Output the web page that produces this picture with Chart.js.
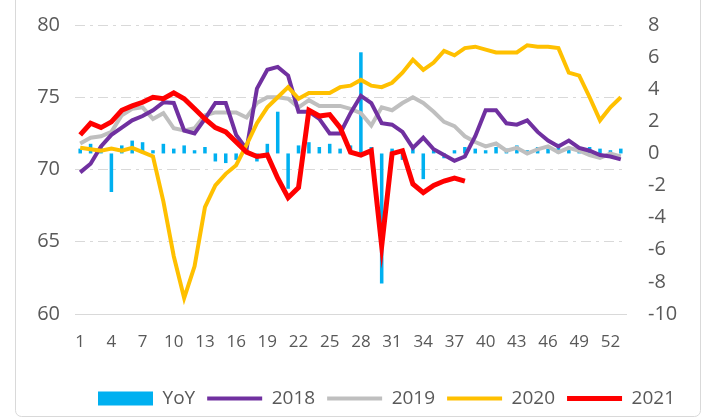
<!DOCTYPE html>
<html>
<head>
<meta charset="utf-8">
<script src="https://cdn.jsdelivr.net/npm/chart.js@4.4.1/dist/chart.umd.min.js"></script>
<style>
  html, body { margin: 0; padding: 0; background: #fff; }
  #wrap { position: relative; width: 713px; height: 418px; overflow: hidden; }
</style>
</head>
<body>
<div id="wrap"><canvas id="chart" width="713" height="418"></canvas></div>
<script>
'use strict';

// week numbers on the category axis
const weeks = [1, 2, 3, 4, 5, 6, 7, 8, 9, 10, 11, 12, 13, 14, 15, 16, 17, 18, 19, 20,
  21, 22, 23, 24, 25, 26, 27, 28, 29, 30, 31, 32, 33, 34, 35, 36, 37, 38, 39, 40,
  41, 42, 43, 44, 45, 46, 47, 48, 49, 50, 51, 52, 53];

// left axis series
const s2018 = [69.8, 70.4, 71.6, 72.4, 72.9, 73.4, 73.7, 74.1, 74.65, 74.6,
  72.7, 72.5, 73.5, 74.6, 74.6, 72.4, 71.4, 75.6, 76.9, 77.1,
  76.5, 74.0, 74.0, 73.5, 72.5, 72.5, 73.9, 75.1, 74.6, 73.2,
  73.1, 72.6, 71.5, 72.2, 71.4, 71.0, 70.6, 70.9, 72.3, 74.1,
  74.1, 73.2, 73.1, 73.4, 72.6, 72.0, 71.6, 72.0, 71.5, 71.3,
  71.0, 70.9, 70.7];
const s2019 = [71.8, 72.2, 72.3, 72.6, 73.75, 74.2, 74.3, 73.5, 73.9, 72.85,
  72.7, 72.85, 73.75, 73.95, 73.95, 73.95, 73.6, 74.6, 75.0, 75.0,
  74.9, 74.3, 74.8, 74.4, 74.4, 74.4, 74.2, 73.9, 73.05, 74.3,
  74.1, 74.6, 75.0, 74.6, 74.0, 73.3, 73.0, 72.3, 71.9, 71.6,
  71.8, 71.3, 71.5, 71.1, 71.4, 71.6, 71.2, 71.5, 71.3, 71.0,
  70.8, 71.1, 70.9];
const s2020 = [71.5, 71.4, 71.3, 71.45, 71.3, 71.5, 71.2, 70.9, 67.8, 64.0,
  61.1, 63.3, 67.4, 68.9, 69.7, 70.3, 71.7, 73.2, 74.3, 75.0,
  75.7, 74.9, 75.3, 75.3, 75.3, 75.7, 75.8, 76.2, 75.8, 75.7,
  76.0, 76.7, 77.6, 76.9, 77.4, 78.2, 77.9, 78.4, 78.5, 78.3,
  78.1, 78.1, 78.1, 78.6, 78.5, 78.5, 78.4, 76.7, 76.5, 75.0,
  73.4, 74.3, 75.0];
const s2021 = [72.4, 73.2, 72.9, 73.3, 74.1, 74.4, 74.65, 75.0, 74.9, 75.3,
  74.9, 74.2, 73.5, 72.9, 72.6, 71.9, 71.2, 70.9, 71.0, 69.4,
  68.05, 68.75, 74.1, 73.7, 73.8, 72.9, 71.2, 71.0, 71.3, 64.7,
  71.1, 71.3, 69.0, 68.4, 68.9, 69.2, 69.4, 69.2, null, null,
  null, null, null, null, null, null, null, null, null, null,
  null, null, null];

// right axis bars
const yoy = [0.3, 0.6, 0.4, -2.4, 0.5, 0.8, 0.7, 0.2, 0.6, 0.3,
  0.5, 0.2, 0.4, -0.5, -0.6, -0.4, 0.3, -0.5, 0.6, 2.6,
  -2.2, 0.5, 0.7, 0.4, 0.6, 0.3, 0.5, 6.3, 0.4, -8.1,
  0.3, -0.4, 0.5, -1.6, 0.3, -0.3, 0.2, 0.4, 0.3, 0.2,
  0.4, 0.3, 0.5, 0.2, 0.4, 0.3, 0.6, 0.3, 0.2, 0.4,
  0.3, 0.2, 0.3];

const leftTicks = { min: 60, max: 80, step: 5 };
const rightTicks = { min: -10, max: 8, step: 2 };

const TEXT = '#595959';
const FONT = "'Open Sans', 'Noto Sans', sans-serif";

// light rounded frame like the office chart area
const frame = {
  id: 'frame',
  beforeDraw(chart) {
    const c = chart.ctx;
    c.save();
    c.fillStyle = '#fff';
    c.fillRect(0, 0, chart.width, chart.height);
    c.strokeStyle = '#d9d9d9';
    c.lineWidth = 1;
    c.beginPath();
    c.roundRect(15.5, -10.5, 685, 427, 6);
    c.stroke();
    c.restore();
  }
};

// legend sits a little right of centre in the original
const legendShift = {
  id: 'legendShift',
  afterLayout(chart) {
    chart.legend.left += 30;
    chart.legend.right += 30;
  }
};

function lineSet(label, data, color, width, order) {
  return {
    type: 'line', label, data, yAxisID: 'y',
    borderColor: color, backgroundColor: color,
    borderWidth: width, pointRadius: 0, tension: 0,
    spanGaps: false, order,
    pointStyle: 'line'
  };
}

new Chart(document.getElementById('chart'), {
  data: {
    labels: weeks,
    datasets: [
      { type: 'bar', label: 'YoY', data: yoy, yAxisID: 'y1', backgroundColor: '#00B0F0',
        barPercentage: 0.34, categoryPercentage: 1, order: 10, pointStyle: 'rect' },
      lineSet('2018', s2018, '#7030A0', 4, 4),
      lineSet('2019', s2019, '#BFBFBF', 4, 5),
      lineSet('2020', s2020, '#FFC000', 4, 3),
      lineSet('2021', s2021, '#FF0000', 5, 2)
    ]
  },
  options: {
    responsive: false,
    animation: false,
    devicePixelRatio: 1,
    layout: { padding: { left: 0, right: 0, top: 25, bottom: 0 } },
    plugins: {
      tooltip: { enabled: false },
      legend: {
        position: 'bottom',
        labels: {
          color: TEXT, font: { family: FONT, size: 19 },
          usePointStyle: true, pointStyleWidth: 55, boxHeight: 14, padding: 12,
          sort: (a, b) => a.datasetIndex - b.datasetIndex
        }
      }
    },
    scales: {
      x: {
        grid: { display: false },
        border: { display: true, color: '#d9d9d9' },
        ticks: {
          color: TEXT, font: { family: FONT, size: 17 }, padding: 10,
          autoSkip: false, maxRotation: 0,
          callback: (v, i) => (i % 3 === 0 ? String(weeks[i]) : '')
        },
        afterFit: s => { s.height = 63; }
      },
      y: {
        position: 'left', min: leftTicks.min, max: leftTicks.max,
        grid: { color: '#d9d9d9', drawTicks: false, lineWidth: 1 },
        border: { display: false, dash: [10, 5, 3, 5] },
        ticks: { stepSize: leftTicks.step, color: TEXT, font: { family: FONT, size: 20, lineHeight: 1 }, padding: 15 },
        afterFit: s => { s.width = 75; }
      },
      y1: {
        position: 'right', min: rightTicks.min, max: rightTicks.max,
        grid: { display: false, drawTicks: true, tickLength: 7 },
        border: { display: false },
        ticks: { stepSize: rightTicks.step, color: TEXT, font: { family: FONT, size: 20, lineHeight: 1 }, padding: 15 },
        afterFit: s => { s.width = 87; }
      }
    }
  },
  plugins: [frame, legendShift]
});
</script>
</body>
</html>
